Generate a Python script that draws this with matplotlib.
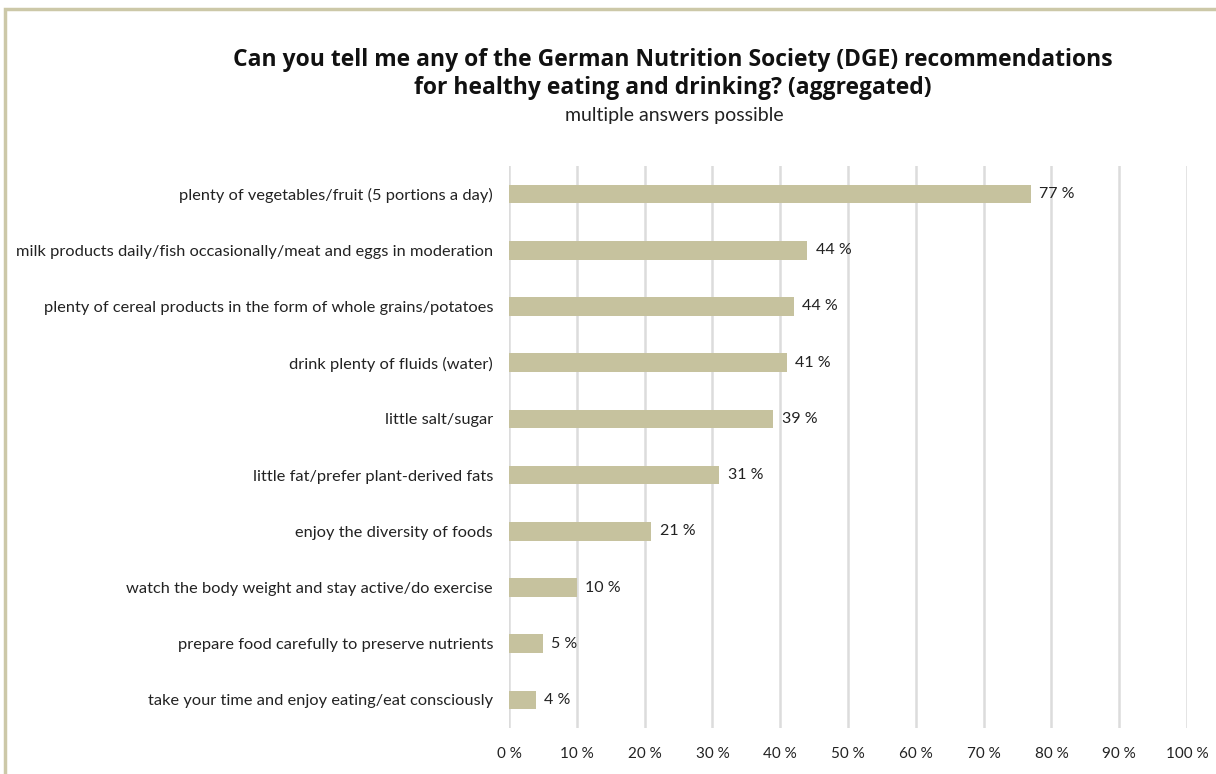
import matplotlib
matplotlib.use("Agg")
import matplotlib.pyplot as plt
from matplotlib.patches import Rectangle

categories = [
    "plenty of vegetables/fruit (5 portions a day)",
    "milk products daily/fish occasionally/meat and eggs in moderation",
    "plenty of cereal products in the form of whole grains/potatoes",
    "drink plenty of fluids (water)",
    "little salt/sugar",
    "little fat/prefer plant-derived fats",
    "enjoy the diversity of foods",
    "watch the body weight and stay active/do exercise",
    "prepare food carefully to preserve nutrients",
    "take your time and enjoy eating/eat consciously",
]
values = [77, 44, 42, 41, 39, 31, 21, 10, 5, 4]
value_labels = ["77 %", "44 %", "44 %", "41 %", "39 %", "31 %", "21 %", "10 %", "5 %", "4 %"]
ticks = [0, 10, 20, 30, 40, 50, 60, 70, 80, 90, 100]
tick_labels = ["0 %", "10 %", "20 %", "30 %", "40 %", "50 %", "60 %", "70 %", "80 %", "90 %", "100 %"]

plt.rcParams['font.family'] = ['Lato', 'DejaVu Sans']

W, H = 1216, 774
fig = plt.figure(figsize=(W / 100, H / 100), dpi=100)
fig.patch.set_facecolor('white')

# border
fig.patches.append(Rectangle((5 / W, -0.05), 1.2, (H - 9) / H + 0.05, transform=fig.transFigure,
                             fill=False, edgecolor='#ccc8a8', linewidth=2.5, zorder=0))

ax = fig.add_axes([509 / W, 1 - 728 / H, (1187 - 509) / W, (728 - 166) / H])
bar_color = '#c6c29e'
ypos = list(range(len(categories)))
ax.barh(ypos, values, height=0.33, color=bar_color, zorder=3)
ax.set_xlim(0, 100)
ax.set_ylim(len(categories) - 0.5, -0.5)
ax.set_xticks(ticks)
ax.set_xticklabels(tick_labels, fontsize=11, color='#222222')
ax.set_yticks(ypos)
ax.set_yticklabels(categories, fontsize=11.75, color='#222222')
ax.tick_params(axis='both', length=0)
ax.tick_params(axis='y', pad=11.5)
ax.tick_params(axis='x', pad=14)
for s in ax.spines.values():
    s.set_visible(False)
ax.grid(axis='x', color='#dcdcdc', linewidth=1.8, zorder=0)
ax.set_axisbelow(True)

for y, v, lab in zip(ypos, values, value_labels):
    ax.annotate(lab, (v, y), xytext=(6, 0), textcoords='offset points',
                va='center', ha='left', fontsize=11.5, color='#222222', zorder=4)

fig.text(673 / W, 1 - 60 / H, "Can you tell me any of the German Nutrition Society (DGE) recommendations",
         ha='center', va='center', fontsize=16.5, fontweight='bold', color='#111111',
         family=['Open Sans', 'DejaVu Sans'])
fig.text(673 / W, 1 - 88 / H, "for healthy eating and drinking? (aggregated)",
         ha='center', va='center', fontsize=16.5, fontweight='bold', color='#111111',
         family=['Open Sans', 'DejaVu Sans'])
fig.text(674 / W, 1 - 115 / H, "multiple answers possible",
         ha='center', va='center', fontsize=14, color='#222222')

fig.savefig("out.png", dpi=100, facecolor='white')
